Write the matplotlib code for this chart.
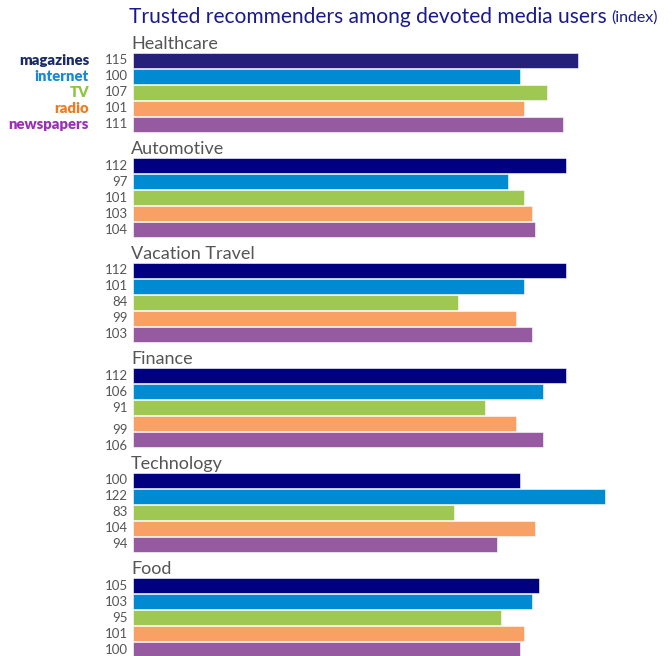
import matplotlib
matplotlib.use("Agg")
import matplotlib.pyplot as plt
from matplotlib.transforms import blended_transform_factory

categories = ["Healthcare", "Automotive", "Vacation Travel", "Finance", "Technology", "Food"]
media = ["magazines", "internet", "TV", "radio", "newspapers"]
values = {
    "magazines":  [115, 112, 112, 112, 100, 105],
    "internet":   [100, 97, 101, 106, 122, 103],
    "TV":         [107, 101, 84, 91, 83, 95],
    "radio":      [101, 103, 99, 99, 104, 101],
    "newspapers": [111, 104, 103, 106, 94, 100],
}
bar_colors = {
    "magazines": "#000080",
    "internet": "#008AD2",
    "TV": "#9FC852",
    "radio": "#F9A064",
    "newspapers": "#955A9F",
}
legend_colors = {
    "magazines": "#1B2B66",
    "internet": "#1A88D4",
    "TV": "#8CC63F",
    "radio": "#EE7A1E",
    "newspapers": "#9B2FB8",
}

W, H = 672, 656
fig = plt.figure(figsize=(W / 100, H / 100), dpi=100)
fig.patch.set_facecolor("white")
plt.rcParams["font.family"] = ["Lato", "DejaVu Sans"]

x0 = 133
ax = fig.add_axes([x0 / W, 0, 1 - x0 / W, 1])
px_per_unit = 3.87
ax.set_xlim(0, (W - x0) / px_per_unit)
ax.set_ylim(H, 0)
ax.axis("off")

group_top = 53
group_pitch = 105
row_pitch = 16
bar_h = 15

lab_tf = blended_transform_factory(fig.transFigure, ax.transData)

for g, cat in enumerate(categories):
    top = group_top + g * group_pitch
    ax.text(-0.5, top - 9, cat, ha="left", va="center", fontsize=13,
            color="#555555")
    for s, m in enumerate(media):
        yc = top + s * row_pitch + bar_h / 2
        v = values[m][g]
        c = "#25217A" if (g == 0 and m == "magazines") else bar_colors[m]
        ax.barh(yc, v, height=bar_h, left=0, color=c, edgecolor="white",
                linewidth=0.4)
        # Finance's last two labels sit a little lower than their bars
        dy = 6 if (cat == "Finance" and s >= 3) else 0
        ax.text(128 / W, yc + dy, str(v), transform=lab_tf, ha="right",
                va="center", fontsize=9.5, color="#555555")

# Series key, beside the first group
for s, m in enumerate(media):
    yc = group_top + s * row_pitch + bar_h / 2
    ax.text(89 / W, yc, m, transform=lab_tf, ha="right", va="center",
            fontsize=10.7, fontweight="heavy", color=legend_colors[m])

t1 = fig.text(129 / W, 1 - 17 / H, "Trusted recommenders among devoted media users",
              ha="left", va="center", fontsize=15.1, color="#1A1A8C")
fig.canvas.draw()
bb = t1.get_window_extent(renderer=fig.canvas.get_renderer())
fig.text((bb.x1 + 4) / W, 1 - 18 / H, "(index)", ha="left", va="center",
         fontsize=11.5, color="#1A1A8C")

fig.savefig("out.png", dpi=100, facecolor="white")
